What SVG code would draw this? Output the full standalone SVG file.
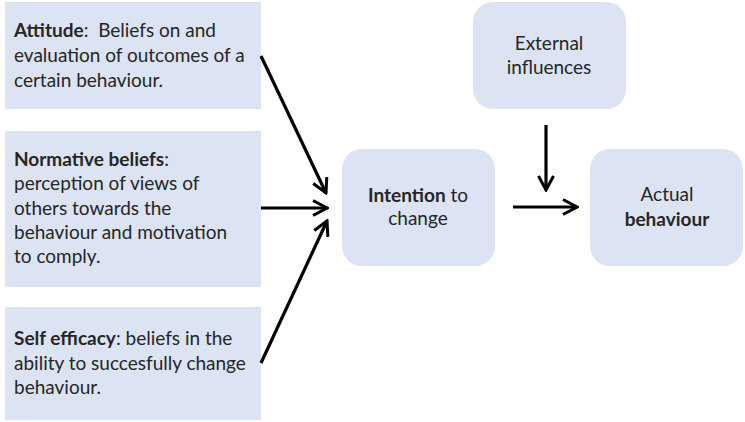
<svg xmlns="http://www.w3.org/2000/svg" width="745" height="422" viewBox="0 0 745 422">
<defs>
<style>
.box{fill:#dce3f2;}
text{font-family:Lato,"Open Sans",sans-serif;font-size:19px;fill:#262626;}
.c{text-anchor:middle;}
.b{font-weight:bold;}
.ln{stroke:#000;stroke-width:3.2;fill:none;}
</style>
<marker id="ah" viewBox="0 0 18 18" refX="16" refY="9" markerWidth="18" markerHeight="18" markerUnits="userSpaceOnUse" orient="auto">
<path d="M2,1.5 L16,9 L2,16.5" fill="none" stroke="#000" stroke-width="3"/>
</marker>
</defs>
<rect width="745" height="422" fill="#fff"/>
<g id="attitude">
<rect class="box" x="5" y="2" width="256" height="107"/>
<text x="14" y="37" xml:space="preserve"><tspan class="b">Attitude</tspan>:  Beliefs on and</text>
<text x="14" y="62">evaluation of outcomes of a</text>
<text x="14" y="87">certain behaviour.</text>
</g>
<g id="normative">
<rect class="box" x="5" y="131" width="256" height="156"/>
<text x="14" y="166"><tspan class="b">Normative beliefs</tspan>:</text>
<text x="14" y="190">perception of views of</text>
<text x="14" y="215">others towards the</text>
<text x="14" y="239">behaviour and motivation</text>
<text x="14" y="263">to comply.</text>
</g>
<g id="selfefficacy">
<rect class="box" x="5" y="307" width="256" height="113"/>
<text x="14" y="345"><tspan class="b">Self efficacy</tspan>: beliefs in the</text>
<text x="14" y="370">ability to succesfully change</text>
<text x="14" y="394">behaviour.</text>
</g>
<g id="intention">
<rect class="box" x="342" y="149" width="153" height="117" rx="20"/>
<text class="c" x="418" y="202"><tspan class="b">Intention</tspan> to</text>
<text class="c" x="418" y="225">change</text>
</g>
<g id="external">
<rect class="box" x="473" y="2" width="153" height="107" rx="20"/>
<text class="c" x="549" y="50">External</text>
<text class="c" x="549" y="74">influences</text>
</g>
<g id="actual">
<rect class="box" x="590" y="149" width="153" height="117" rx="20"/>
<text class="c" x="667" y="201">Actual</text>
<text class="c b" x="667" y="226">behaviour</text>
</g>
<g id="connectors">
<line class="ln" x1="261" y1="56" x2="326" y2="193" marker-end="url(#ah)"/>
<line class="ln" x1="261" y1="208" x2="327" y2="208" marker-end="url(#ah)"/>
<line class="ln" x1="261" y1="363" x2="327" y2="221" marker-end="url(#ah)"/>
<line class="ln" x1="513" y1="207" x2="577" y2="207" marker-end="url(#ah)"/>
<line class="ln" x1="546" y1="125" x2="546" y2="190" marker-end="url(#ah)"/>
</g>
</svg>
